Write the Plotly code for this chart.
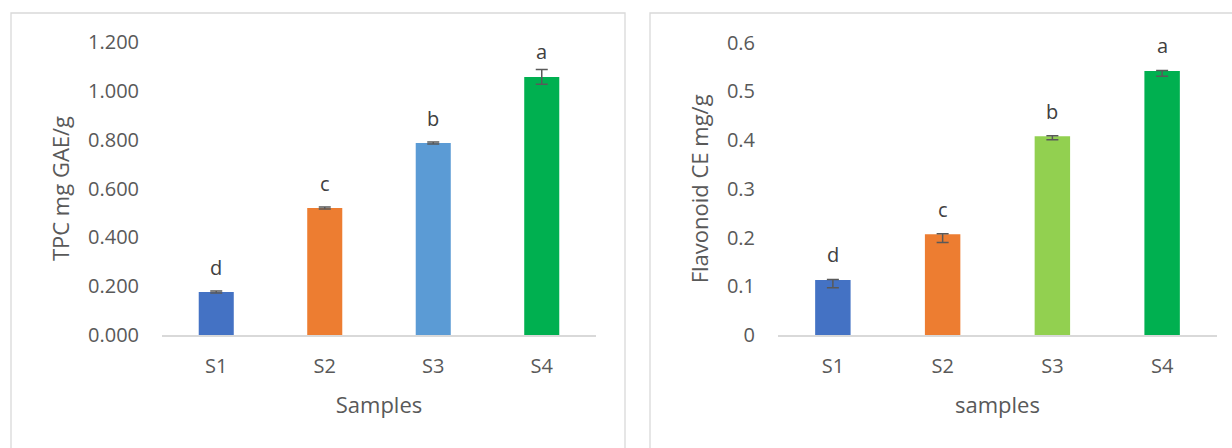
import plotly.graph_objects as go

# Sample categories
samples = ["S1", "S2", "S3", "S4"]

# Total phenolic content (mg GAE/g)
tpc_values = [0.176, 0.520, 0.786, 1.057]
tpc_errors = [0.004, 0.004, 0.004, 0.030]
tpc_letters = ["d", "c", "b", "a"]
tpc_colors = ["#4472C4", "#ED7D31", "#5B9BD5", "#00B050"]
tpc_ticks = [0.0, 0.2, 0.4, 0.6, 0.8, 1.0, 1.2]
tpc_ticktext = ["0.000", "0.200", "0.400", "0.600", "0.800", "1.000", "1.200"]

# Flavonoid content (CE mg/g)
flav_values = [0.113, 0.207, 0.408, 0.542]
flav_err_plus = [0.001, 0.001, 0.001, 0.001]
flav_err_minus = [0.016, 0.017, 0.007, 0.011]
flav_letters = ["d", "c", "b", "a"]
flav_colors = ["#4472C4", "#ED7D31", "#92D050", "#00B050"]
flav_ticks = [0, 0.1, 0.2, 0.3, 0.4, 0.5, 0.6]
flav_ticktext = ["0", "0.1", "0.2", "0.3", "0.4", "0.5", "0.6"]

W, H = 1232, 448
FONT = "Open Sans"
TICK_COLOR = "#595959"
LETTER_COLOR = "#404040"
LINE_COLOR = "#D9D9D9"
ERR_COLOR = "#595959"


def px_x(v):
    return v / W


def px_y(v):
    return (H - v) / H


fig = go.Figure()

fig.add_trace(go.Bar(
    x=samples, y=tpc_values,
    marker=dict(color=tpc_colors, line=dict(width=0)),
    error_y=dict(type="data", array=tpc_errors, visible=True,
                 color=ERR_COLOR, thickness=1.5, width=6),
    xaxis="x", yaxis="y", showlegend=False,
))

fig.add_trace(go.Bar(
    x=samples, y=flav_values,
    marker=dict(color=flav_colors, line=dict(width=0)),
    error_y=dict(type="data", symmetric=False, array=flav_err_plus,
                 arrayminus=flav_err_minus, visible=True,
                 color=ERR_COLOR, thickness=1.5, width=6),
    xaxis="x2", yaxis="y2", showlegend=False,
))

# Significance letters above each bar
annotations = []
for s, v, t in zip(samples, tpc_values, tpc_letters):
    annotations.append(dict(x=s, y=v, xref="x", yref="y", text=t,
                            showarrow=False, yshift=25, yanchor="middle",
                            font=dict(family=FONT, size=20, color=LETTER_COLOR)))
for s, v, t in zip(samples, flav_values, flav_letters):
    annotations.append(dict(x=s, y=v, xref="x2", yref="y2", text=t,
                            showarrow=False, yshift=25, yanchor="middle",
                            font=dict(family=FONT, size=20, color=LETTER_COLOR)))

tick_font = dict(family=FONT, size=20, color=TICK_COLOR)
title_font = dict(family=FONT, size=22, color=TICK_COLOR)

xaxis_common = dict(
    type="category", showgrid=False, zeroline=False,
    showline=True, linecolor=LINE_COLOR, linewidth=1.5,
    ticks="", tickfont=tick_font, ticklabelstandoff=12,
)
yaxis_common = dict(
    showgrid=False, zeroline=False, showline=False, ticks="",
    tickfont=tick_font, ticklabelstandoff=22,
)

fig.update_layout(
    width=W, height=H,
    margin=dict(l=0, r=0, t=0, b=0),
    template="none",
    paper_bgcolor="white", plot_bgcolor="white",
    bargap=0.677,
    xaxis=dict(xaxis_common, domain=[px_x(162), px_x(596)], anchor="y",
               title=dict(text="Samples", font=title_font, standoff=20)),
    yaxis=dict(yaxis_common, domain=[px_y(335), px_y(42)], anchor="x",
               range=[0, 1.2], tickvals=tpc_ticks, ticktext=tpc_ticktext,
               title=dict(text="TPC mg GAE/g", font=title_font, standoff=12)),
    xaxis2=dict(xaxis_common, domain=[px_x(778), px_x(1217)], anchor="y2",
                title=dict(text="samples", font=title_font, standoff=20)),
    yaxis2=dict(yaxis_common, domain=[px_y(335), px_y(42.7)], anchor="x2",
                range=[0, 0.6], tickvals=flav_ticks, ticktext=flav_ticktext,
                title=dict(text="Flavonoid CE mg/g", font=title_font, standoff=12)),
    annotations=annotations,
    shapes=[
        dict(type="rect", xref="paper", yref="paper",
             x0=px_x(11), x1=px_x(625), y0=-0.1, y1=px_y(13),
             line=dict(color=LINE_COLOR, width=1.3), layer="below"),
        dict(type="rect", xref="paper", yref="paper",
             x0=px_x(650), x1=1.1, y0=-0.1, y1=px_y(13),
             line=dict(color=LINE_COLOR, width=1.3), layer="below"),
    ],
)

fig.write_html("out.html")
